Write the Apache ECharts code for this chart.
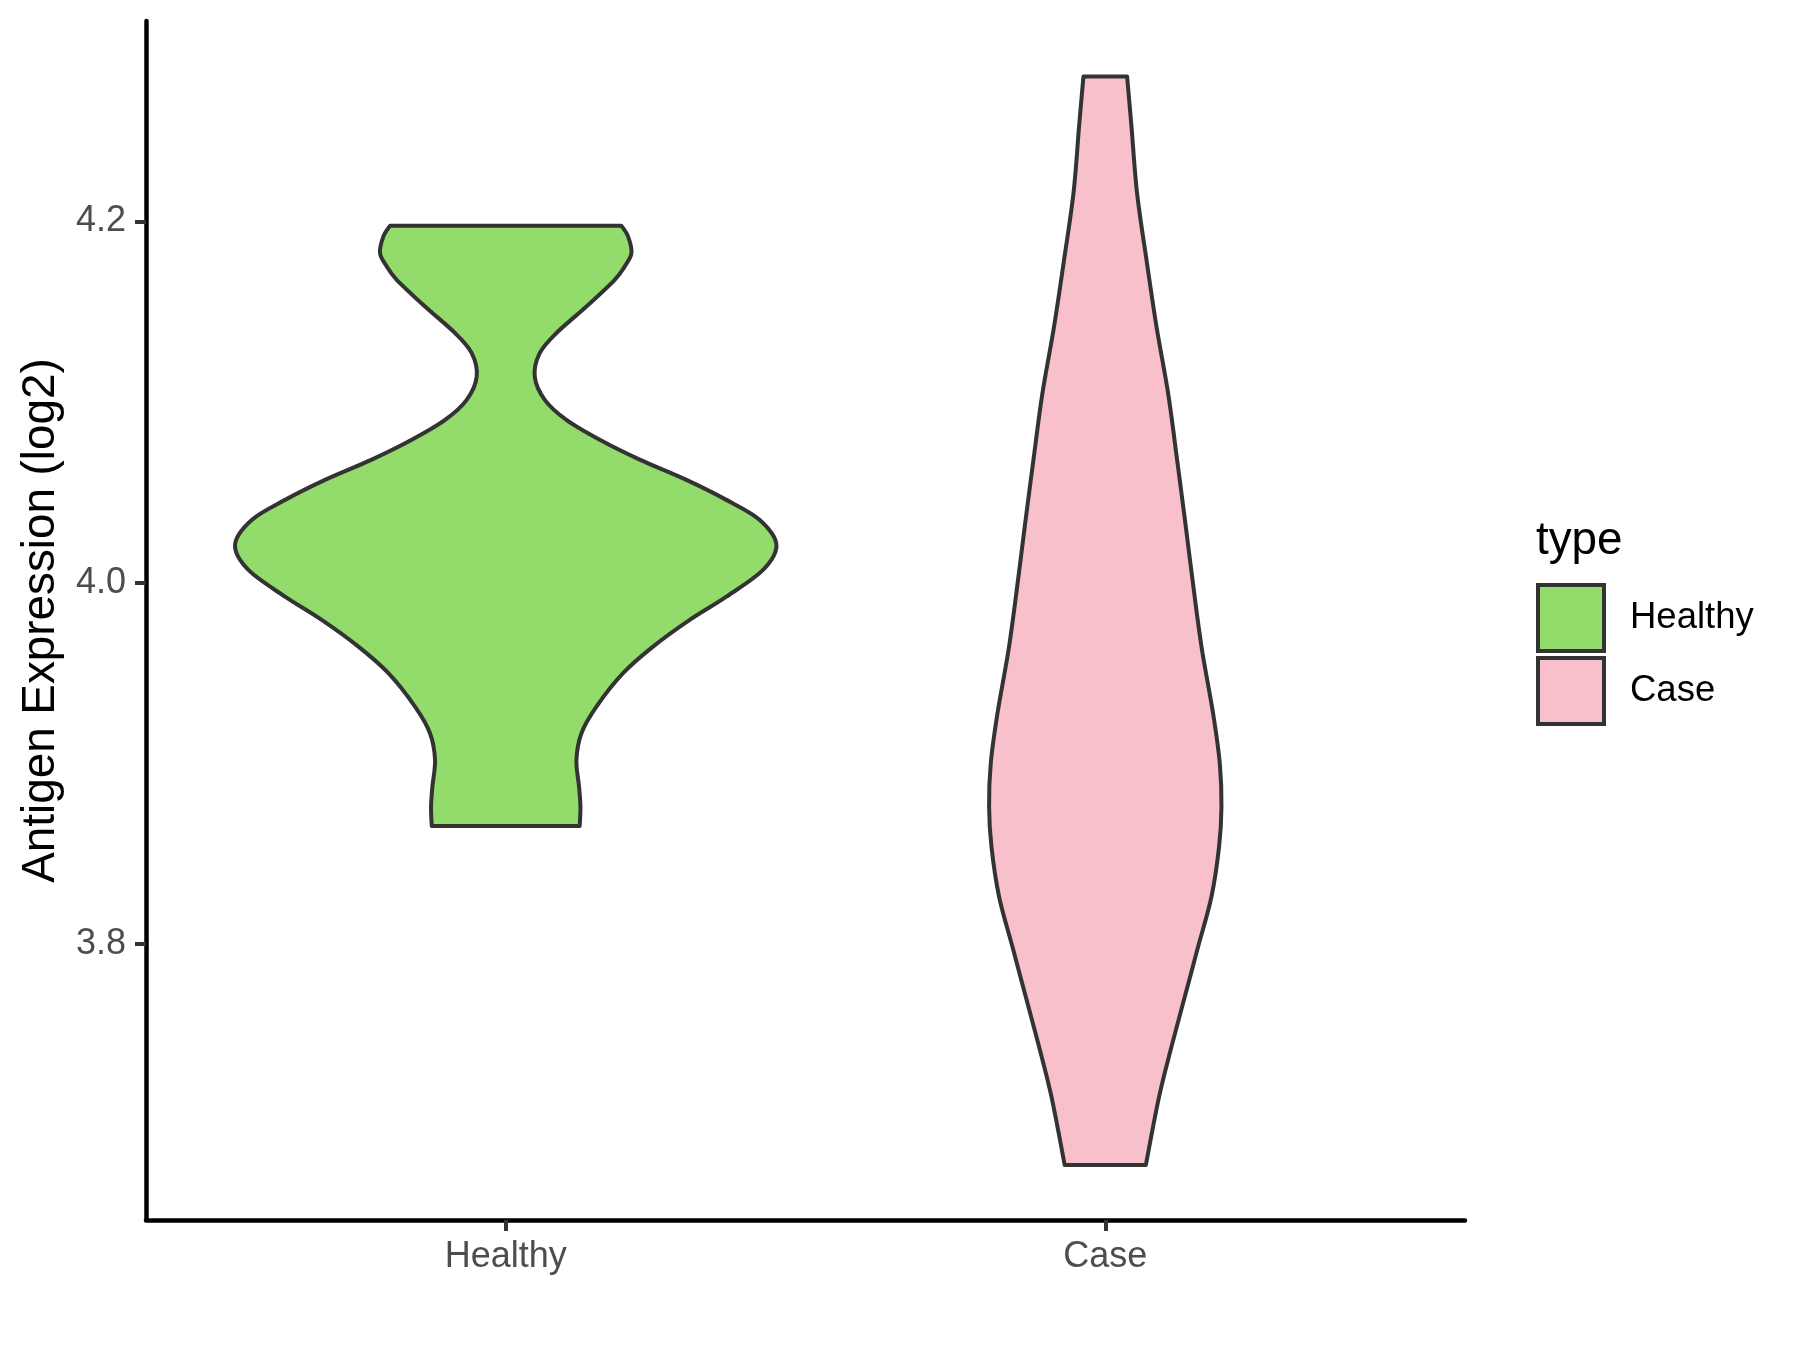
<!DOCTYPE html>
<html>
<head>
<meta charset="utf-8">
<script src="https://cdn.jsdelivr.net/npm/echarts@6/dist/echarts.min.js"></script>
<style>
  html, body { margin: 0; padding: 0; background: #fff; }
  #chart { width: 1800px; height: 1350px; }
</style>
</head>
<body>
<div id="chart"></div>
<script>
// violin outlines: expression level (log2) and half width (x units)
const categories = ['Healthy', 'Case'];
const yTicks = [3.8, 4.0, 4.2];

const healthyLevels = [4.1976, 4.1917, 4.1825, 4.1751, 4.1677, 4.1529, 4.1382, 4.1271, 4.1141, 4.1012,
  4.0901, 4.0791, 4.0681, 4.0569, 4.0458, 4.0347, 4.0209, 4.0070, 3.9922, 3.9793, 3.9645, 3.9498,
  3.9313, 3.9166, 3.9018, 3.8870, 3.8759, 3.8652];
const healthyHalfWidth = [0.193, 0.204, 0.2097, 0.1985, 0.1818, 0.1346, 0.0846, 0.0567, 0.0484, 0.0651,
  0.1012, 0.1568, 0.2235, 0.3014, 0.3681, 0.4237, 0.4515, 0.4292, 0.3681, 0.3069, 0.2457, 0.1957,
  0.1513, 0.1263, 0.1179, 0.1223, 0.1246, 0.1234];

const caseLevels = [4.2803, 4.2526, 4.2157, 4.1788, 4.1418, 4.1049, 4.0680, 4.0310, 4.0015, 3.9645,
  3.9276, 3.8999, 3.8759, 3.8537, 3.8260, 3.7983, 3.7706, 3.7429, 3.7152, 3.6774];
const caseHalfWidth = [0.0364, 0.0437, 0.0530, 0.0687, 0.0854, 0.1048, 0.1198, 0.1343, 0.1455, 0.1605,
  0.1798, 0.1910, 0.1938, 0.1898, 0.1771, 0.1548, 0.1326, 0.1104, 0.0897, 0.0676];

const GREEN = '#93DB6B';
const PINK = '#F8C0CB';
const OUTLINE = '#333333';
const FONT = 'Liberation Sans, Arial, sans-serif';

const violins = {
  Healthy: { x: 1, levels: healthyLevels, hw: healthyHalfWidth, color: GREEN },
  Case: { x: 2, levels: caseLevels, hw: caseHalfWidth, color: PINK }
};

// smooth curve through screen points (catmull-rom as cubic bezier)
function curveThrough(pts) {
  let d = '';
  for (let i = 0; i < pts.length - 1; i++) {
    const p0 = pts[i - 1] || pts[i];
    const p1 = pts[i];
    const p2 = pts[i + 1];
    const p3 = pts[i + 2] || pts[i + 1];
    const c1 = [p1[0] + (p2[0] - p0[0]) / 6, p1[1] + (p2[1] - p0[1]) / 6];
    const c2 = [p2[0] - (p3[0] - p1[0]) / 6, p2[1] - (p3[1] - p1[1]) / 6];
    d += ' C' + c1[0] + ',' + c1[1] + ' ' + c2[0] + ',' + c2[1] + ' ' + p2[0] + ',' + p2[1];
  }
  return d;
}

function renderViolin(params, api) {
  const v = violins[params.seriesName];
  const cx = api.value(0);
  const right = v.levels.map((y, i) => api.coord([cx + v.hw[i], y]));
  const left = v.levels.map((y, i) => api.coord([cx - v.hw[i], y])).reverse();
  let d = 'M' + right[0][0] + ',' + right[0][1] + curveThrough(right);
  d += ' L' + left[0][0] + ',' + left[0][1] + curveThrough(left) + ' Z';
  return {
    type: 'path',
    shape: { pathData: d },
    style: { fill: v.color, stroke: OUTLINE, lineWidth: 4, lineJoin: 'round' }
  };
}

const chart = echarts.init(document.getElementById('chart'));
chart.setOption({
  animation: false,
  backgroundColor: '#fff',
  textStyle: { fontFamily: FONT },
  grid: { left: 146, right: 335, top: 21, bottom: 130 },
  title: {
    text: 'type', left: 1536, top: 518, padding: 0,
    textStyle: { fontFamily: FONT, fontSize: 45.8, fontWeight: 'normal', color: '#000' }
  },
  legend: {
    orient: 'vertical', left: 1536, top: 583, padding: 0,
    itemWidth: 66, itemHeight: 66, itemGap: 3, icon: 'rect', selectedMode: false,
    textStyle: { fontFamily: FONT, fontSize: 36.5, color: '#000', padding: [0, 0, 0, 21] },
    data: [
      { name: 'Healthy', itemStyle: { color: GREEN, borderColor: OUTLINE, borderWidth: 4 } },
      { name: 'Case', itemStyle: { color: PINK, borderColor: OUTLINE, borderWidth: 4 } }
    ]
  },
  xAxis: {
    type: 'value', min: 0.4, max: 2.6,
    splitLine: { show: false },
    axisLine: { lineStyle: { color: '#000', width: 4.5 } },
    axisTick: { length: 11, customValues: [1, 2], lineStyle: { color: OUTLINE, width: 4 } },
    axisLabel: {
      customValues: [1, 2], margin: 19.5,
      formatter: (val) => categories[Math.round(val) - 1] || '',
      fontFamily: FONT, fontSize: 36, color: '#4D4D4D'
    }
  },
  yAxis: {
    type: 'value', min: 3.647, max: 4.311,
    name: 'Antigen Expression (log2)', nameLocation: 'middle', nameGap: 82,
    nameTextStyle: { fontFamily: FONT, fontSize: 45.8, color: '#000' },
    splitLine: { show: false },
    axisLine: { lineStyle: { color: '#000', width: 4.5 } },
    axisTick: { length: 11, customValues: yTicks, lineStyle: { color: OUTLINE, width: 4 } },
    axisLabel: {
      customValues: yTicks, margin: 20,
      formatter: (val) => val.toFixed(1),
      fontFamily: FONT, fontSize: 36, color: '#4D4D4D'
    }
  },
  series: categories.map((name, i) => ({
    type: 'custom',
    name: name,
    renderItem: renderViolin,
    itemStyle: { color: violins[name].color, borderColor: OUTLINE, borderWidth: 4 },
    encode: { x: 0, y: 1 },
    data: [[i + 1, violins[name].levels[0]]]
  }))
});
window.addEventListener('resize', () => chart.resize());
</script>
</body>
</html>
